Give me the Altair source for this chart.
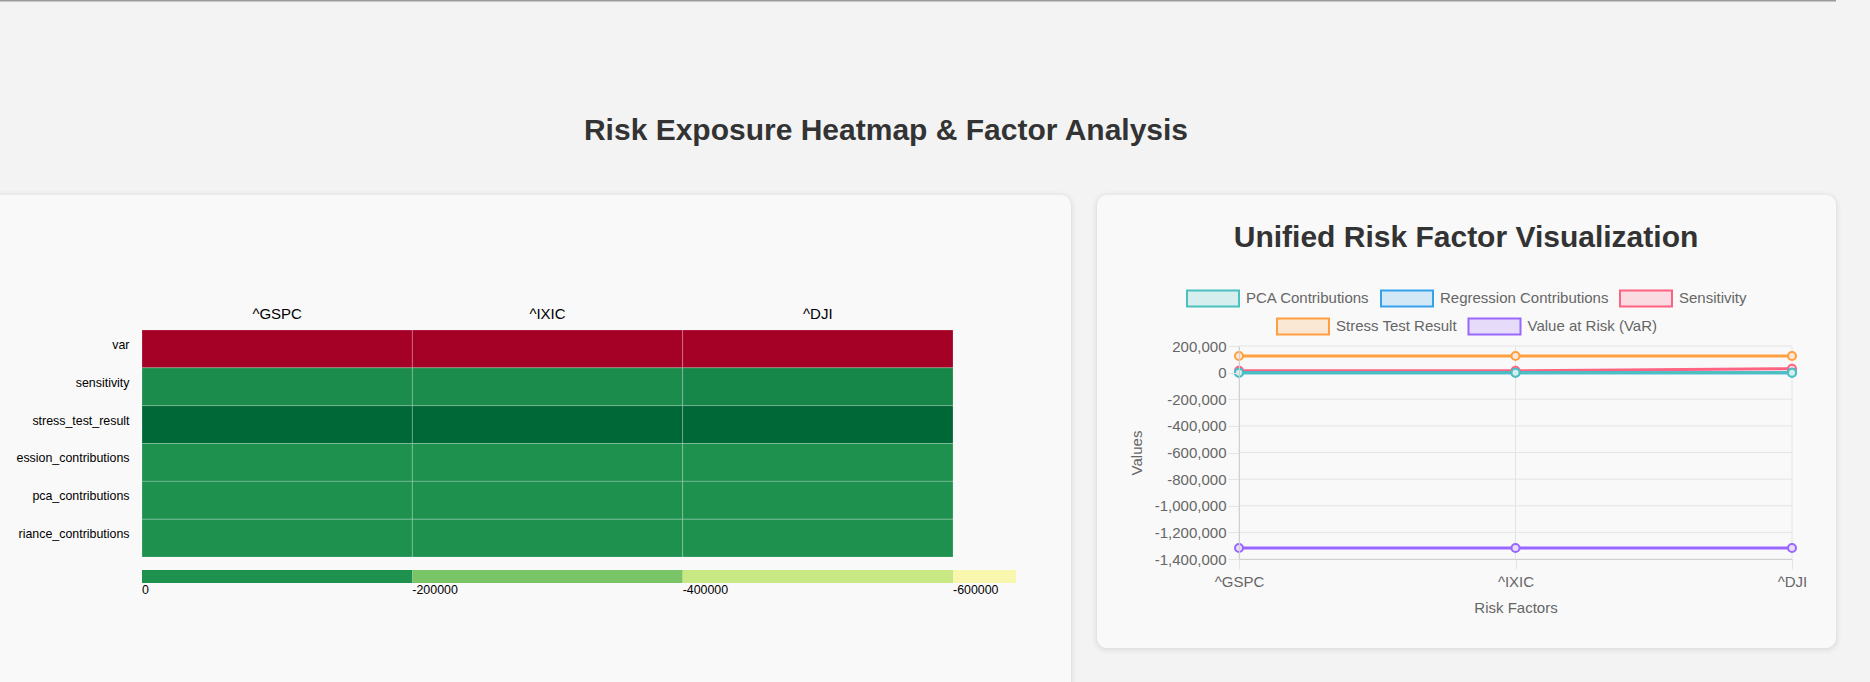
import altair as alt
import pandas as pd

# ---------------- data ----------------
indices = ["^GSPC", "^IXIC", "^DJI"]

pca_contributions = [0, 0, 0]
regression_contributions = [0, 0, 0]
sensitivity = [14000, 14000, 29000]
stress_test_result = [125000, 125000, 125000]
value_at_risk = [-1317000, -1317000, -1317000]
variance_contributions = [0, 0, 0]

line_series = ["PCA Contributions", "Regression Contributions", "Sensitivity",
               "Stress Test Result", "Value at Risk (VaR)"]
line_values = [pca_contributions, regression_contributions, sensitivity,
               stress_test_result, value_at_risk]

heat_factors = ["var", "sensitivity", "stress_test_result",
                "regression_contributions", "pca_contributions", "variance_contributions"]
# the two longest row labels are cut off by the panel edge in the reference
heat_labels_shown = ["var", "sensitivity", "stress_test_result",
                     "ession_contributions", "pca_contributions", "riance_contributions"]
heat_values = [value_at_risk, sensitivity, stress_test_result,
               regression_contributions, pca_contributions, variance_contributions]

legend_starts = [0, -200000, -400000, -600000]
legend_ends = [-200000, -400000, -600000, -646600]
legend_labels = ["0", "-200000", "-400000", "-600000"]

y_ticks = [200000, 0, -200000, -400000, -600000, -800000, -1000000, -1200000, -1400000]

# ---------------- styles ----------------
FONT = "Liberation Sans"
line_colors = ["#4bc0c0", "#36a2eb", "#ff6384", "#ff9f40", "#9966ff"]
line_fills = ["#d6eeee", "#d2e8f6", "#fadbe2", "#fae7d4", "#e6dcfa"]
legend_colors = ["#1e914f", "#79c466", "#c8e883", "#f9f7ae"]
GRID = "#e4e4e4"
BOX_PATH = "M-1,-0.3077L1,-0.3077L1,0.3077L-1,0.3077Z"

one = pd.DataFrame({"k": [0]})


def rect(x1, x2, y1, y2, fill, radius=0, opacity=1.0):
    return alt.Chart(one).mark_rect(fill=fill, cornerRadius=radius, opacity=opacity).encode(
        x=alt.value(x1), x2=alt.value(x2), y=alt.value(y1), y2=alt.value(y2))


def card(x1, x2, y1, y2):
    layers = []
    for grow, op in [(5, 0.012), (3, 0.02), (1, 0.03)]:
        layers.append(rect(x1 - grow, x2 + grow, y1 - grow + 1, y2 + grow + 1, "#000000", 10 + grow, op))
    layers.append(rect(x1, x2, y1, y2, "#f9f9f9", 10))
    return layers


def label(text, x, y, size, weight="normal", color="#333333"):
    return alt.Chart(one).mark_text(text=text, fontSize=size, fontWeight=weight, font=FONT,
                                    color=color, align="center", baseline="alphabetic").encode(
        x=alt.value(x), y=alt.value(y))


deco = [rect(0, 1836, 0, 1.5, "#9a9a9a")]
deco += card(-30, 1071, 195, 760)
deco += card(1097, 1836, 195, 648)
deco.append(label("Risk Exposure Heatmap & Factor Analysis", 886, 139.5, 30, "bold"))
deco.append(label("Unified Risk Factor Visualization", 1466, 246.5, 30, "bold"))

# ---------------- heatmap ----------------
heat_df = pd.DataFrame([{"factor": f, "index": idx, "value": v}
                        for f, vals in zip(heat_factors, heat_values)
                        for idx, v in zip(indices, vals)])
all_heat = [v for vals in heat_values for v in vals]

label_expr = " : ".join(
    f"datum.label == '{f}' ? '{s}'" for f, s in zip(heat_factors, heat_labels_shown)
) + " : datum.label"

heat = alt.Chart(heat_df).mark_rect(stroke="#ffffff", strokeWidth=1, strokeOpacity=0.2).encode(
    x=alt.X("index:N", scale=alt.Scale(domain=indices, range=[142, 953], paddingInner=0, paddingOuter=0),
            axis=alt.Axis(orient="top", offset=-330, title=None, ticks=False, tickSize=0, domain=False,
                          grid=False, labelPadding=12, labelFontSize=15, labelFont=FONT,
                          labelColor="#000000", labelBaseline="alphabetic", labelAngle=0, zindex=1)),
    y=alt.Y("factor:N", scale=alt.Scale(domain=heat_factors, range=[330, 557], paddingInner=0, paddingOuter=0),
            axis=alt.Axis(orient="left", offset=-142, title=None, ticks=False, tickSize=0, domain=False,
                          grid=False, labelPadding=13, labelFontSize=12.4, labelFont=FONT,
                          labelColor="#000000", labelBaseline="alphabetic", labelLimit=400, zindex=1,
                          labelExpr=label_expr)),
    color=alt.Color("value:Q", scale=alt.Scale(domain=[min(all_heat), 0, max(all_heat)],
                                               range=["#a50026", "#1e914f", "#006837"], interpolate="rgb"),
                    legend=None),
)

lb_df = pd.DataFrame({"start": legend_starts, "end": legend_ends, "label": legend_labels})
lb_scale = alt.Scale(domain=[legend_starts[0], legend_starts[-1]], range=[142, 953], nice=False, zero=False)
lb_rect = alt.Chart(lb_df).mark_rect().encode(
    x=alt.X("start:Q", scale=lb_scale, axis=None), x2="end:Q",
    y=alt.value(570), y2=alt.value(583),
    color=alt.Color("label:N", scale=alt.Scale(domain=legend_labels, range=legend_colors), legend=None))
lb_text = alt.Chart(lb_df).mark_text(align="left", baseline="alphabetic", fontSize=12.4, font=FONT,
                                     color="#000000").encode(
    x=alt.X("start:Q", scale=lb_scale, axis=None), y=alt.value(594), text="label:N")
lb = alt.layer(lb_rect, lb_text)

# ---------------- line chart ----------------
x_scale = alt.Scale(type="point", domain=indices, range=[1239, 1792], padding=0)
y_scale = alt.Scale(domain=[y_ticks[-1], y_ticks[0]], range=[559, 346], nice=False, zero=False)

x_axis = alt.Axis(orient="bottom", offset=-123, title="Risk Factors", titleFontSize=15, titleFont=FONT,
                  titleColor="#666666", titleFontWeight="normal", titleY=53.7, titleBaseline="alphabetic",
                  labelFontSize=15, labelColor="#666666", labelFont=FONT, labelPadding=5, labelAngle=0,
                  tickSize=10, tickColor=GRID, domainColor="#d0d0d0", grid=False, zindex=1)
y_axis = alt.Axis(orient="left", offset=-1239, values=y_ticks,
                  labelExpr="replace(format(datum.value, ','), '\u2212', '-')",
                  title="Values", titleFontSize=15, titleFont=FONT, titleColor="#666666",
                  titleFontWeight="normal", titleX=-98, titleBaseline="alphabetic", titleAngle=270,
                  labelFontSize=15, labelColor="#666666", labelFont=FONT, labelPadding=2,
                  tickSize=11, tickColor=GRID, domainColor="#d0d0d0", grid=False, zindex=1)

grid_h = alt.Chart(pd.DataFrame({"tick": y_ticks})).mark_rule(color=GRID, strokeWidth=1).encode(
    y=alt.Y("tick:Q", scale=y_scale, axis=y_axis),
    x=alt.XDatum(indices[0], type="nominal", scale=x_scale, axis=x_axis),
    x2=alt.X2Datum(indices[-1]))
grid_v = alt.Chart(pd.DataFrame({"index": indices})).mark_rule(color=GRID, strokeWidth=1).encode(
    x=alt.X("index:N", scale=x_scale, axis=x_axis),
    y=alt.YDatum(y_ticks[0], type="quantitative", scale=y_scale, axis=y_axis),
    y2=alt.Y2Datum(y_ticks[-1]))


def series_df(names):
    rows = []
    for name in reversed(names):  # first series drawn last, on top
        vals = line_values[line_series.index(name)]
        for pos, (idx, v) in enumerate(zip(indices, vals)):
            rows.append({"series": name, "index": idx, "value": v, "pos": pos})
    return pd.DataFrame(rows)


def group(names, colors, fills, lx, ly, colpad):
    df = series_df(names)
    stroke_scale = alt.Scale(domain=names, range=colors)
    fill_scale = alt.Scale(domain=names, range=fills)
    leg = alt.Legend(orient="none", legendX=lx, legendY=ly, direction="horizontal", title=None,
                     symbolType=BOX_PATH, symbolSize=2704, symbolStrokeWidth=2, labelFontSize=15,
                     labelFont=FONT, labelColor="#666666", labelOffset=6, columnPadding=colpad,
                     labelLimit=400)
    base = alt.Chart(df).encode(x=alt.X("index:N", scale=x_scale, axis=x_axis),
                                y=alt.Y("value:Q", scale=y_scale, axis=y_axis))
    lines = base.mark_line(strokeWidth=3).encode(
        stroke=alt.Stroke("series:N", scale=stroke_scale, legend=leg),
        order=alt.Order("pos:Q"))
    points = base.mark_point(filled=True, size=64, strokeWidth=2, opacity=1, shape="circle").encode(
        fill=alt.Fill("series:N", scale=fill_scale, legend=leg),
        stroke=alt.Stroke("series:N", scale=stroke_scale, legend=leg))
    return alt.layer(lines, points)


gA = group(line_series[:3], line_colors[:3], line_fills[:3], 1186, 271, 7)
gB = group(line_series[3:], line_colors[3:], line_fills[3:], 1276, 299, 7.5)
linechart = alt.layer(grid_h, grid_v, gA, gB).resolve_scale(stroke="independent", fill="independent")

chart = alt.layer(*deco, heat, lb, linechart).resolve_scale(
    x="independent", y="independent", color="independent", stroke="independent", fill="independent"
).properties(
    width=1870, height=682, autosize=alt.AutoSizeParams(type="none"), padding=0, background="#f3f3f3"
).configure_view(stroke=None)

chart.save("out.html", embed_options={"renderer": "svg", "actions": False})
